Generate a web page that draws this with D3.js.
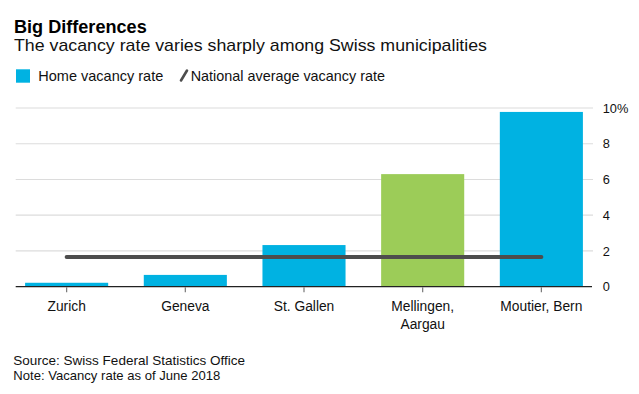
<!DOCTYPE html>
<html>
<head>
<meta charset="utf-8">
<script src="https://cdn.jsdelivr.net/npm/d3@7"></script>
<style>
  html, body { margin: 0; padding: 0; background: #fff; }
  svg { display: block; font-family: "Liberation Sans", Arial, Helvetica, sans-serif; }
</style>
</head>
<body>
<svg id="chart" width="639" height="394"></svg>
<script>
// ---- Data ----
const categories = ["Zurich", "Geneva", "St. Gallen", "Mellingen,\nAargau", "Moutier, Bern"];
const vacancyRates = [0.22, 0.66, 2.33, 6.3, 9.78];
const nationalAverage = 1.66;
const highlighted = ["Mellingen,\nAargau"];
const yTicks = [0, 2, 4, 6, 8, 10];
const yTickLabels = ["0", "2", "4", "6", "8", "10%"];

const title = "Big Differences";
const subtitle = "The vacancy rate varies sharply among Swiss municipalities";
const legendLabels = ["Home vacancy rate", "National average vacancy rate"];
const footnotes = ["Source: Swiss Federal Statistics Office", "Note: Vacancy rate as of June 2018"];

// ---- Layout ----
const BLUE = "#00b2e2", GREEN = "#9ccc58", AVG = "#4d4d4d";
const svg = d3.select("#chart");

const x = d3.scaleBand().domain(categories).range([7.3, 600.7]).paddingInner(0.3).paddingOuter(0.15);
const y = d3.scaleLinear().domain([0, 10]).range([286.7, 108]);
const plotLeft = 15.7, plotRight = 593;

// Titles
svg.append("text").attr("x", 14).attr("y", 32.7).attr("font-size", 17.5).attr("font-weight", "bold")
  .attr("fill", "#000").attr("textLength", 132.7).attr("lengthAdjust", "spacingAndGlyphs").text(title);
svg.append("text").attr("x", 14).attr("y", 51).attr("font-size", 16.2).attr("fill", "#111")
  .attr("textLength", 473).attr("lengthAdjust", "spacingAndGlyphs").text(subtitle);

// Legend
svg.append("rect").attr("x", 16).attr("y", 69.3).attr("width", 14).attr("height", 13.4).attr("fill", BLUE);
svg.append("text").attr("x", 38.3).attr("y", 81).attr("font-size", 14.2).attr("fill", "#111")
  .attr("textLength", 125).attr("lengthAdjust", "spacingAndGlyphs").text(legendLabels[0]);
svg.append("line").attr("x1", 181).attr("y1", 80.5).attr("x2", 187).attr("y2", 70.5)
  .attr("stroke", AVG).attr("stroke-width", 2.6).attr("stroke-linecap", "round");
svg.append("text").attr("x", 190.7).attr("y", 81).attr("font-size", 14.2).attr("fill", "#111")
  .attr("textLength", 194.3).attr("lengthAdjust", "spacingAndGlyphs").text(legendLabels[1]);

// Gridlines
const grid = svg.append("g");
grid.selectAll("line").data(yTicks.filter(d => d !== 0)).join("line")
  .attr("x1", plotLeft).attr("x2", plotRight)
  .attr("y1", d => y(d)).attr("y2", d => y(d))
  .attr("stroke", "#dcdcdc").attr("stroke-width", 1.2);

// Y axis (right)
const yAxis = d3.axisRight(y).tickValues(yTicks).tickSize(0).tickPadding(0)
  .tickFormat((d, i) => yTickLabels[i]);
const yg = svg.append("g").attr("transform", `translate(${602.7},0)`).call(yAxis);
yg.select(".domain").remove();
yg.selectAll("text").attr("font-size", 12.8).attr("fill", "#111")
  .attr("font-family", "'Liberation Sans', Arial, sans-serif").attr("x", 0);

// Bars
svg.append("g").selectAll("rect").data(categories).join("rect")
  .attr("x", d => x(d)).attr("width", x.bandwidth())
  .attr("y", (d, i) => y(vacancyRates[i]))
  .attr("height", (d, i) => y(0) - y(vacancyRates[i]))
  .attr("fill", d => highlighted.includes(d) ? GREEN : BLUE);

// Baseline
svg.append("line").attr("x1", plotLeft).attr("x2", plotRight - 1).attr("y1", y(0)).attr("y2", y(0))
  .attr("stroke", "#222").attr("stroke-width", 1.2);

// X axis ticks + labels
const xAxis = d3.axisBottom(x).tickSize(5).tickPadding(0).tickFormat("");
const xg = svg.append("g").attr("transform", `translate(0,${y(0) + 0.6})`).call(xAxis);
xg.select(".domain").remove();
xg.selectAll(".tick line").attr("stroke", "#777").attr("stroke-width", 1.2);
xg.selectAll(".tick").each(function(d) {
  const lines = d.split("\n");
  const t = d3.select(this).append("text").attr("text-anchor", "middle").attr("fill", "#111")
    .attr("font-size", 13.8).attr("y", 0);
  lines.forEach((ln, i) => {
    t.append("tspan").attr("x", 0).attr("y", 24 + i * 17.6).text(ln);
  });
});

// National average line
svg.append("line")
  .attr("x1", x(categories[0]) + x.bandwidth() / 2)
  .attr("x2", x(categories[categories.length - 1]) + x.bandwidth() / 2)
  .attr("y1", y(nationalAverage)).attr("y2", y(nationalAverage))
  .attr("stroke", AVG).attr("stroke-width", 4).attr("stroke-linecap", "round");

// Footnotes
const footLengths = [231.7, 207];
footnotes.forEach((f, i) => {
  svg.append("text").attr("x", 13.3).attr("y", 365 + i * 15).attr("font-size", 12.6)
    .attr("fill", "#111").attr("textLength", footLengths[i]).attr("lengthAdjust", "spacingAndGlyphs").text(f);
});
</script>
</body>
</html>
